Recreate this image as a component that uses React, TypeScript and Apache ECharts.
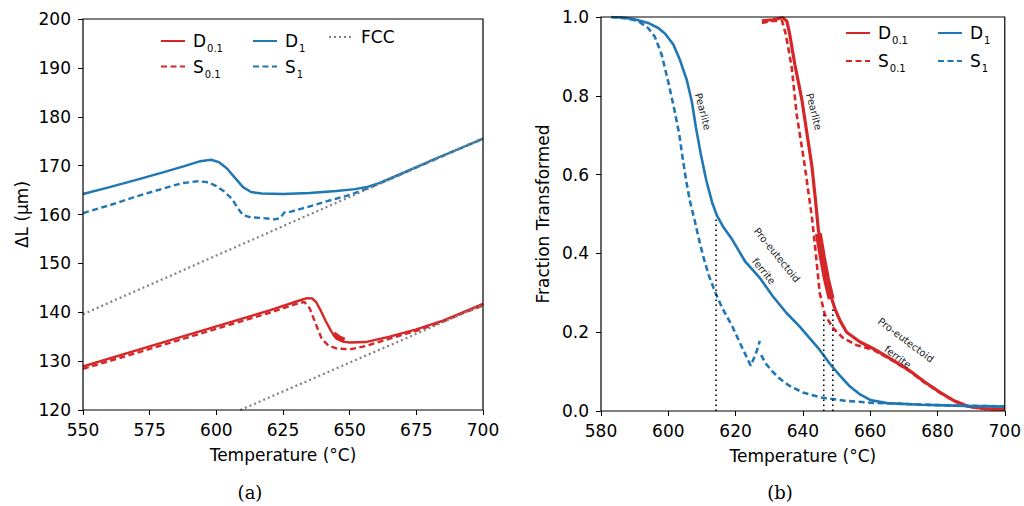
import React, { useEffect, useRef } from 'react';
import * as echarts from 'echarts';

const FONT = '"DejaVu Sans", sans-serif';
const RED = '#d62728';
const BLUE = '#1f77b4';
const GRAY = '#808080';

// ---------- Panel (a): dilatation ΔL (µm) vs temperature ----------
const aXTicks = { min: 550, max: 700, interval: 25 };
const aYTicks = { min: 120, max: 200, interval: 10 };

const dilD01 = [[550,128.9],[575,133],[600,137.1],[620,140.4],[630,142.2],[634,142.9],[636,142.8],[637.5,142],[639,140.5],[641,138.2],[643,136.2],[645,134.6],[647.5,134],[650,133.8],[656,133.9],[665,135],[675,136.5],[685,138.3],[692,139.9],[700,141.7]];
const dilD01Noise = [[644,135.6],[646,134.8],[648,134.3]];
const dilS01 = [[550,128.4],[575,132.5],[600,136.6],[620,139.9],[630,141.7],[633,142.1],[635,140.8],[637,138],[639.5,134.6],[642,133.2],[645,132.6],[650,132.4],[656,133.1],[665,134.6],[675,136.2],[685,138.1],[692,139.7],[700,141.4]];
const dilD1 = [[550,164.2],[560,165.6],[570,167.1],[580,168.6],[588,169.9],[594,170.9],[598,171.2],[601,170.7],[604,169.4],[607,167.5],[610,165.6],[613,164.6],[617,164.3],[625,164.2],[635,164.4],[645,164.8],[652,165.2],[657,165.7],[661,166.4],[670,168.5],[680,170.9],[690,173.2],[700,175.5]];
const dilS1 = [[550,160.3],[560,161.9],[570,163.7],[580,165.3],[587,166.4],[593,166.8],[597,166.6],[600,165.8],[603,164.7],[606,163.1],[608,161.3],[610,159.9],[613,159.4],[617,159.3],[622,159.0],[624,159.3],[625.5,160.4],[628,160.6],[632,161.2],[636,161.8],[640,162.5],[644,163.1],[650,164.0],[656,165.2],[662,166.5],[670,168.4],[680,170.8],[690,173.2],[700,175.5]];
const fccHigh = [[550,139.6],[700,175.6]];
const fccLow = [[609,120],[700,141.5]];

// ---------- Panel (b): fraction transformed vs temperature ----------
const bXTicks = { min: 580, max: 700, interval: 20 };
const bYTicks = { min: 0, max: 1, interval: 0.2 };

const fracD01 = [[627.8,0.99],[631,0.993],[634,0.998],[635.2,0.99],[636,0.96],[637.6,0.88],[639.7,0.79],[641.2,0.705],[642.7,0.62],[643.8,0.53],[644.6,0.46],[645.6,0.41],[646.8,0.35],[648,0.3],[649.5,0.26],[651,0.23],[653,0.2],[657,0.175],[661,0.158],[666,0.133],[671.5,0.104],[676,0.075],[681,0.046],[685,0.026],[689,0.012],[694,0.006],[700,0.004]];
const fracD01Noise = [[644.6,0.45],[645.8,0.39],[647,0.335],[648.4,0.285]];
const fracS01 = [[627.8,0.985],[631,0.99],[633.8,0.99],[634.8,0.96],[635.7,0.92],[636.7,0.87],[638.2,0.75],[640.6,0.62],[642.7,0.49],[643.6,0.42],[644.3,0.36],[645,0.3],[646.5,0.245],[649,0.21],[652,0.185],[656,0.167],[661,0.155],[666,0.131],[671.5,0.102],[676,0.073],[681,0.045],[685,0.025],[689,0.011],[694,0.005],[700,0.003]];
const fracD1 = [[583,1.0],[587,0.998],[590,0.994],[594,0.985],[597,0.972],[599,0.958],[601.5,0.93],[603.5,0.89],[605.5,0.84],[607,0.785],[608.2,0.72],[609.6,0.655],[611.3,0.585],[613,0.53],[614.5,0.495],[616.5,0.465],[619,0.435],[622.8,0.38],[627,0.34],[631,0.292],[635,0.25],[639,0.215],[642,0.185],[645,0.155],[648,0.12],[651,0.09],[654,0.062],[657,0.042],[660,0.028],[665,0.02],[675,0.016],[688,0.013],[700,0.011]];
const fracS1 = [[583,1.0],[587,0.997],[591,0.99],[594,0.972],[596,0.95],[598,0.905],[600,0.835],[601.8,0.765],[603.2,0.705],[604.3,0.64],[605.3,0.585],[606.5,0.53],[607.8,0.485],[609,0.44],[610.3,0.395],[612,0.345],[614,0.3],[616,0.262],[619,0.215],[622,0.16],[624.5,0.115],[625.5,0.135],[626.4,0.155],[627.2,0.178],[627.4,null],[627.6,0.142],[629,0.12],[631,0.1],[633,0.083],[635.8,0.065],[640,0.047],[645.6,0.034],[652.5,0.026],[660,0.021],[670,0.018],[680,0.015],[690,0.013],[700,0.012]];
// vertical dotted markers: [temperature, top fraction]
const markers = [[614.2,0.49],[646.2,0.25],[648.9,0.265]];

const annotations = [
  { text: 'Pearlite', x: 610.3, y: 0.76, rot: -75 },
  { text: 'Pearlite', x: 643.3, y: 0.76, rot: -76 },
  { text: 'Pro-eutectoid', x: 632.3, y: 0.396, rot: -51 },
  { text: 'ferrite', x: 628.4, y: 0.355, rot: -51 },
  { text: 'Pro-eutectoid', x: 670.6, y: 0.18, rot: -37 },
  { text: 'ferrite', x: 668.2, y: 0.137, rot: -37 },
];

const captions = [
  { text: '(a)', x: 250, y: 492 },
  { text: '(b)', x: 780, y: 492 },
];

const rich = {
  m: { fontSize: 17, fontFamily: FONT, color: '#000', lineHeight: 22, padding: [0, 0, 0, 3] },
  s: { fontSize: 10, fontFamily: FONT, color: '#000', lineHeight: 10, padding: [15, 0, 0, 1] },
};

function legendFor(name: string, left: number, top: number) {
  return {
    data: [name],
    left,
    top,
    padding: 0,
    itemWidth: 24,
    itemHeight: 12,
    selectedMode: false,
    itemStyle: { opacity: 0, borderWidth: 0 },
    textStyle: { fontFamily: FONT, fontSize: 17, color: '#000', rich },
    formatter: (n: string) => (n === 'FCC' ? '{m|FCC}' : `{m|${n[0]}}{s|${n.slice(1)}}`),
  };
}

function axisBase(t: { min: number; max: number; interval: number }, idx: number, name: string, isY: boolean, gap: number, fmt?: (v: number) => string) {
  return {
    type: 'value',
    gridIndex: idx,
    min: t.min,
    max: t.max,
    interval: t.interval,
    name,
    nameLocation: 'middle',
    nameGap: gap,
    nameTextStyle: { color: '#000', fontSize: 17, fontFamily: FONT },
    axisLine: { show: false },
    axisTick: { show: true, inside: false, length: 5, lineStyle: { color: '#000', width: 1 } },
    axisLabel: { color: '#000', fontSize: 17, fontFamily: FONT, margin: isY ? 12 : 11, formatter: fmt },
    splitLine: { show: false },
  };
}

function line(name: string, data: any[], color: string, idx: number, type: any, width = 2.2, z = 2) {
  return {
    type: 'line',
    name,
    data,
    xAxisIndex: idx,
    yAxisIndex: idx,
    symbol: 'none',
    showSymbol: false,
    connectNulls: false,
    lineStyle: { color, width, type },
    itemStyle: { color },
    z,
  };
}

const DASH = [6, 3.5];
const DOT = [2, 3];

export default function App() {
  const ref = useRef<HTMLDivElement>(null);
  useEffect(() => {
    const chart = echarts.init(ref.current!, null, { renderer: 'svg' });
    const option: any = {
      animation: false,
      backgroundColor: '#fff',
      grid: [
        { left: 83, top: 19, width: 400, height: 391, show: true, borderColor: '#000', borderWidth: 1.2, backgroundColor: 'transparent', z: 5 },
        { left: 601, top: 17, width: 404, height: 394, show: true, borderColor: '#000', borderWidth: 1.2, backgroundColor: 'transparent', z: 5 },
      ],
      xAxis: [
        axisBase(aXTicks, 0, 'Temperature (°C)', false, 36),
        axisBase(bXTicks, 1, 'Temperature (°C)', false, 36),
      ],
      yAxis: [
        axisBase(aYTicks, 0, 'ΔL (μm)', true, 53),
        axisBase(bYTicks, 1, 'Fraction Transformed', true, 50, (v: number) => v.toFixed(1)),
      ],
      legend: [
        legendFor('D0.1', 160, 28.5),
        legendFor('S0.1', 160, 54),
        legendFor('D1', 252, 28.5),
        legendFor('S1', 252, 54),
        legendFor('FCC', 328, 28.5),
        legendFor('D0.1', 845, 20.5),
        legendFor('S0.1', 845, 48.5),
        legendFor('D1', 937, 20.5),
        legendFor('S1', 937, 48.5),
      ],
      series: [
        line('D0.1', dilD01, RED, 0, 'solid', 2.4),
        line('D0.1 band', dilD01Noise, RED, 0, 'solid', 5),
        line('S0.1', dilS01, RED, 0, DASH, 2.4),
        line('D1', dilD1, BLUE, 0, 'solid', 2.4),
        line('S1', dilS1, BLUE, 0, DASH, 2.4),
        line('FCC', fccHigh, GRAY, 0, DOT, 2.2, 3),
        line('FCC low', fccLow, GRAY, 0, DOT, 2.2, 3),
        line('D0.1', fracD01, RED, 1, 'solid', 3.2),
        line('D0.1 band', fracD01Noise, RED, 1, 'solid', 7),
        line('S0.1', fracS01, RED, 1, DASH, 2.6),
        line('D1', fracD1, BLUE, 1, 'solid', 2.6),
        line('S1', fracS1, BLUE, 1, DASH, 2.6),
        ...markers.map((m, i) => line('marker' + i, [[m[0], 0], [m[0], m[1]]], '#000', 1, [1.5, 3.5], 1.6, 4)),
      ],
    };
    chart.setOption(option);
    const g: any[] = annotations.map((a) => {
      const p = chart.convertToPixel({ xAxisIndex: 1, yAxisIndex: 1 }, [a.x, a.y]) as number[];
      return {
        type: 'text',
        x: p[0],
        y: p[1],
        rotation: (a.rot * Math.PI) / 180,
        style: { text: a.text, fontFamily: FONT, fontSize: 10, fill: '#222', align: 'center', verticalAlign: 'middle' },
        z: 10,
      };
    });
    captions.forEach((c) =>
      g.push({
        type: 'text',
        x: c.x,
        y: c.y,
        style: { text: c.text, fontFamily: '"DejaVu Serif", serif', fontSize: 18, fill: '#000', align: 'center', verticalAlign: 'middle' },
      })
    );
    chart.setOption({ graphic: g });
    return () => chart.dispose();
  }, []);
  return <div ref={ref} style={{ position: 'absolute', left: 0, top: 0, width: 1024, height: 506 }} />;
}
